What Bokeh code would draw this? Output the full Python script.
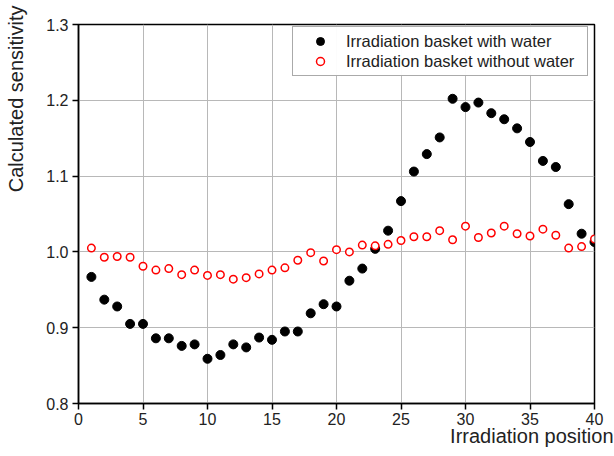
from bokeh.plotting import figure
from bokeh.models import FixedTicker, PrintfTickFormatter, Title, Legend, LegendItem
from bokeh.embed import file_html
from bokeh.resources import INLINE

positions = list(range(1, 41))
with_water = [0.967, 0.937, 0.928, 0.905, 0.905, 0.886, 0.886, 0.876, 0.878, 0.859,
              0.864, 0.878, 0.874, 0.887, 0.884, 0.895, 0.895, 0.919, 0.931, 0.928,
              0.962, 0.978, 1.004, 1.028, 1.067, 1.106, 1.129, 1.151, 1.202, 1.191,
              1.197, 1.183, 1.175, 1.163, 1.145, 1.120, 1.112, 1.063, 1.024, 1.013]
without_water = [1.005, 0.993, 0.994, 0.993, 0.981, 0.976, 0.978, 0.970, 0.976, 0.969,
                 0.970, 0.964, 0.966, 0.971, 0.976, 0.979, 0.989, 0.999, 0.988, 1.003,
                 1.000, 1.009, 1.008, 1.010, 1.015, 1.020, 1.020, 1.028, 1.016, 1.034,
                 1.019, 1.025, 1.034, 1.024, 1.021, 1.030, 1.022, 1.005, 1.007, 1.017]
x_ticks = [0, 5, 10, 15, 20, 25, 30, 35, 40]
y_ticks = [0.8, 0.9, 1.0, 1.1, 1.2, 1.3]

FONT = "Liberation Sans"
TXT = "#222222"

p = figure(width=614, height=456, x_range=(0, 40), y_range=(0.8, 1.3),
           output_backend="svg", toolbar_location=None,
           min_border_left=78, min_border_right=20, min_border_top=24, min_border_bottom=53)
p.outline_line_color = "black"
p.outline_line_width = 1.5
p.background_fill_color = "white"

for ax, ticks in ((p.xaxis, x_ticks), (p.yaxis, y_ticks)):
    ax.ticker = FixedTicker(ticks=ticks)
    ax.minor_tick_line_color = None
    ax.major_tick_in = 0
    ax.major_tick_out = 6
    ax.axis_line_color = "black"
    ax.axis_line_width = 1.5
    ax.major_tick_line_color = "black"
    ax.major_tick_line_width = 1.5
    ax.major_label_text_font = FONT
    ax.major_label_text_font_size = "16px"
    ax.major_label_text_color = TXT
p.yaxis.formatter = PrintfTickFormatter(format="%.1f")
p.xaxis.major_label_standoff = 3
p.yaxis.major_label_standoff = 4
# blank spacer between the tick labels and the y title
p.yaxis.axis_label = " "
p.yaxis.axis_label_text_font_size = "2px"
p.yaxis.axis_label_standoff = 5

p.xgrid.ticker = FixedTicker(ticks=x_ticks)
p.ygrid.ticker = FixedTicker(ticks=y_ticks)
p.grid.grid_line_color = "#b8b8b8"
p.grid.grid_line_width = 1

r1 = p.scatter(positions, with_water, size=9, fill_color="black", line_color="black")
r2 = p.scatter(positions, without_water, size=7.5, fill_color="white", line_color="red", line_width=1.5)

legend = Legend(items=[LegendItem(label="Irradiation basket with water", renderers=[r1]),
                       LegendItem(label="Irradiation basket without water", renderers=[r2])],
                location=(214, 327), label_text_font=FONT, label_text_font_size="16.5px",
                label_text_color=TXT,
                border_line_color="#555555", border_line_width=1,
                margin=0, padding=4, spacing=0, glyph_width=46, glyph_height=20,
                label_height=20, label_width=237, label_standoff=3)
p.add_layout(legend)

xt = Title(text="Irradiation position", align="right", text_font=FONT, text_color=TXT,
           text_font_size="20px", text_font_style="normal", offset=-19, standoff=-10)
p.add_layout(xt, "below")
yt = Title(text="Calculated sensitivity", align="right", vertical_align="top",
           text_font=FONT, text_color=TXT,
           text_font_size="20px", text_font_style="normal", offset=-19, standoff=9)
p.add_layout(yt, "left")

open("out.html", "w").write(file_html(p, INLINE))
